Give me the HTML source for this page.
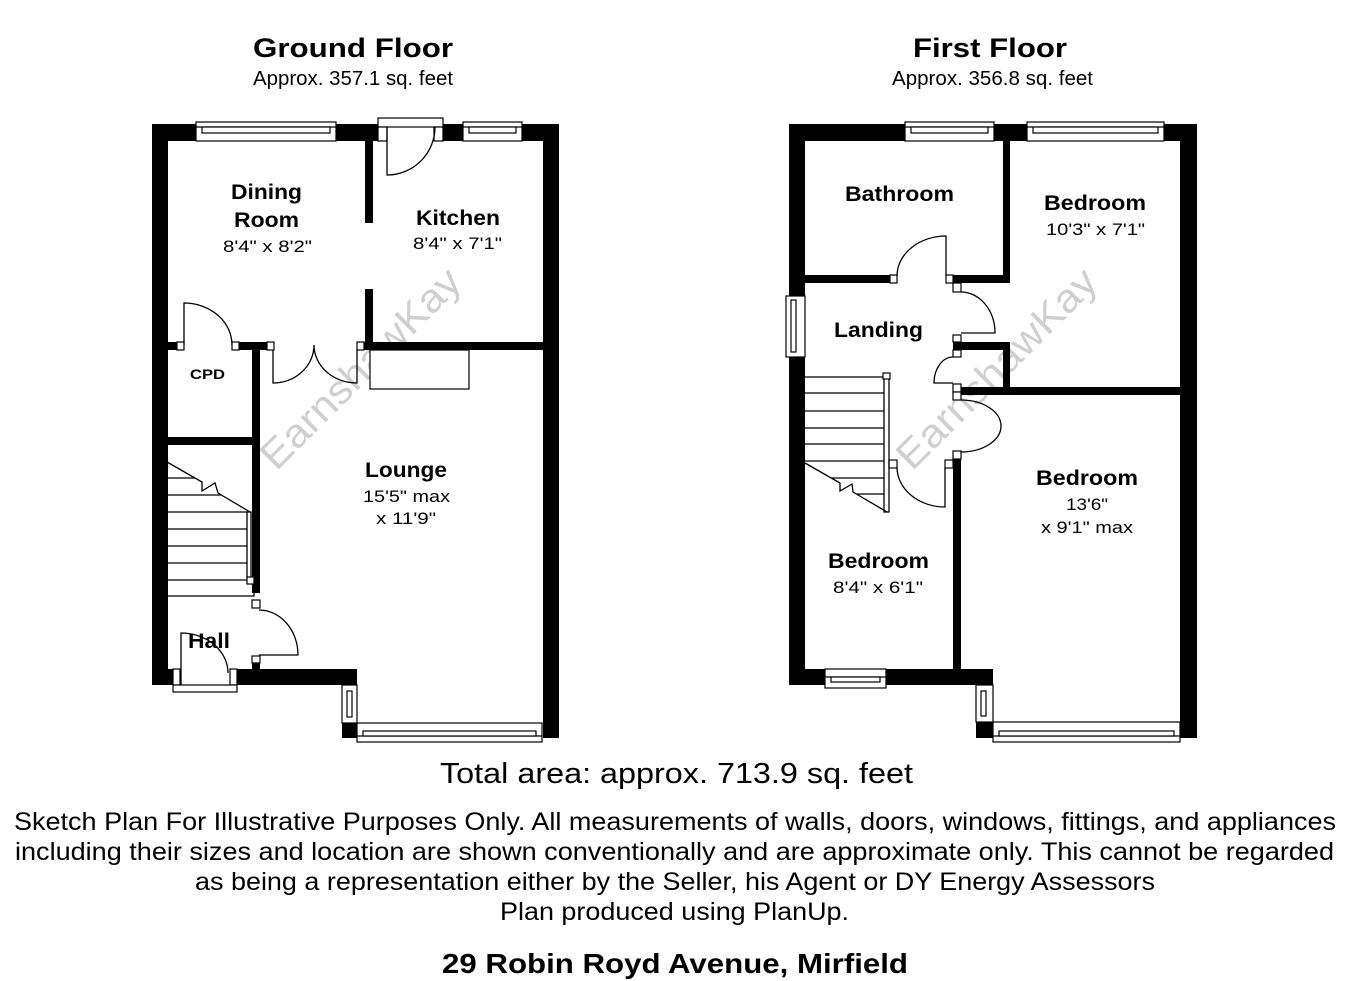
<!DOCTYPE html>
<html><head><meta charset="utf-8"><style>
html,body{margin:0;padding:0;background:#fff;}
svg{display:block;}
text{font-family:"Liberation Sans",Arial,sans-serif;fill:#000;}
.b{font-weight:bold;}
.ln{fill:none;stroke:#000;stroke-width:1.3;}
.w{fill:#fff;stroke:#000;stroke-width:1.2;}
.wm{fill:#cfcfcf;font-size:40px;}
</style></head><body>
<svg width="1350" height="981" viewBox="0 0 1350 981" xmlns="http://www.w3.org/2000/svg">
<rect width="1350" height="981" fill="#fff"/>

<!-- watermarks -->
<text class="wm" x="370" y="378" text-anchor="middle" textLength="265" lengthAdjust="spacingAndGlyphs" transform="rotate(-45 370 378)">EarnshawKay</text>
<text class="wm" x="1006" y="378" text-anchor="middle" textLength="265" lengthAdjust="spacingAndGlyphs" transform="rotate(-45 1006 378)">EarnshawKay</text>

<!-- ================= GROUND FLOOR ================= -->
<g fill="#000">
  <rect x="152" y="124" width="16" height="561"/>
  <rect x="152" y="124" width="44" height="17"/>
  <rect x="336" y="124" width="42" height="17"/>
  <rect x="443" y="124" width="20" height="17"/>
  <rect x="522" y="124" width="37" height="17"/>
  <rect x="543" y="124" width="16" height="614"/>
  <rect x="365" y="141" width="8" height="82"/>
  <rect x="365" y="289" width="8" height="61"/>
  <rect x="364" y="342" width="179" height="8"/>
  <rect x="168" y="342" width="9" height="8"/>
  <rect x="239" y="342" width="28" height="8"/>
  <rect x="252" y="342" width="8" height="251"/>
  <rect x="168" y="437" width="84" height="8"/>
  <rect x="252" y="663" width="8" height="7"/>
  <rect x="152" y="669" width="21" height="16"/>
  <rect x="237" y="669" width="120" height="16"/>
  <rect x="342" y="723" width="15" height="15"/>
</g>
<!-- posts -->
<rect class="w" x="177" y="342" width="7" height="8"/>
<rect class="w" x="232" y="342" width="7" height="8"/>
<rect class="w" x="267" y="342" width="7" height="8"/>
<rect class="w" x="357" y="342" width="7" height="8"/>
<rect class="w" x="252" y="600" width="8" height="8"/>
<rect class="w" x="252" y="656" width="8" height="7"/>
<rect class="w" x="173" y="669" width="7" height="16"/>
<rect class="w" x="230" y="669" width="7" height="16"/>
<rect class="w" x="173" y="685" width="64" height="7"/>
<!-- kitchen door frame -->
<rect class="w" x="378" y="118" width="65" height="9"/>
<rect class="w" x="378" y="127" width="9" height="14"/>
<rect class="w" x="434" y="127" width="9" height="14"/>

<!-- windows ground -->
<g>
  <rect class="w" x="196" y="122" width="140" height="19"/>
  <line class="ln" x1="196" y1="127" x2="336" y2="127"/>
  <rect class="w" x="202" y="127" width="128" height="6"/>
  <rect class="w" x="463" y="122" width="59" height="19"/>
  <line class="ln" x1="463" y1="127" x2="522" y2="127"/>
  <rect class="w" x="469" y="127" width="47" height="6"/>
  <rect class="w" x="357" y="723" width="185" height="19"/>
  <line class="ln" x1="357" y1="736" x2="542" y2="736"/>
  <rect class="w" x="363" y="731" width="173" height="5"/>
  <rect class="w" x="342" y="685" width="15" height="38"/>
  <rect class="w" x="347" y="691" width="5" height="26"/>
</g>

<!-- fireplace -->
<rect class="w" x="370" y="350" width="99" height="39"/>

<!-- doors ground -->
<path class="ln" d="M387,127 L387,175 A48,48 0 0 0 435,127"/>
<path class="ln" d="M184,345 L184,303 A48,42 0 0 1 232,345"/>
<path class="ln" d="M273,350 L273,383 A41,38 0 0 0 314,345 A43,38 0 0 0 357,383 L357,350"/>
<path class="ln" d="M259,610 A39,45 0 0 1 298,655 L259,655"/>
<path class="ln" d="M181,685 L181,633 A47,40 0 0 1 228,673"/>

<!-- stairs ground -->
<g class="ln">
  <polyline points="167,462 202,482 202,491 215,483 218,493 250,512"/>
  <line x1="167" y1="478" x2="195" y2="478"/>
  <line x1="167" y1="495" x2="221" y2="495"/>
  <line x1="167" y1="512" x2="247" y2="512"/>
  <line x1="167" y1="529" x2="247" y2="529"/>
  <line x1="167" y1="546" x2="247" y2="546"/>
  <line x1="167" y1="563" x2="247" y2="563"/>
  <line x1="167" y1="580" x2="247" y2="580"/>
  <polyline points="167,596 254,596 254,580"/>
  <rect x="247" y="512" width="4" height="66"/>
</g>
<rect class="w" x="247" y="577" width="7" height="7"/>

<!-- ================= FIRST FLOOR ================= -->
<g fill="#000">
  <rect x="789" y="124" width="16" height="561"/>
  <rect x="789" y="124" width="116" height="17"/>
  <rect x="994" y="124" width="33" height="17"/>
  <rect x="1164" y="124" width="33" height="17"/>
  <rect x="1180" y="124" width="17" height="614"/>
  <rect x="1003" y="141" width="7" height="142"/>
  <rect x="805" y="275" width="85" height="8"/>
  <rect x="953" y="275" width="57" height="8"/>
  <rect x="953" y="342" width="57" height="8"/>
  <rect x="1003" y="342" width="7" height="53"/>
  <rect x="961" y="387" width="219" height="8"/>
  <rect x="953" y="459" width="8" height="210"/>
  <rect x="789" y="669" width="204" height="16"/>
  <rect x="976" y="722" width="17" height="16"/>
</g>
<rect class="w" x="890" y="275" width="7" height="8"/>
<rect class="w" x="946" y="275" width="7" height="8"/>
<rect class="w" x="953" y="283" width="8" height="9"/>
<rect class="w" x="953" y="335" width="8" height="7"/>
<rect class="w" x="953" y="350" width="8" height="7"/>
<rect class="w" x="953" y="384" width="8" height="8"/>
<rect class="w" x="953" y="392" width="8" height="8"/>
<rect class="w" x="953" y="451" width="8" height="8"/>
<rect class="w" x="945" y="460" width="8" height="8"/>
<rect class="w" x="889" y="460" width="8" height="8"/>

<!-- windows first -->
<g>
  <rect class="w" x="905" y="122" width="89" height="19"/>
  <line class="ln" x1="905" y1="127" x2="994" y2="127"/>
  <rect class="w" x="911" y="127" width="77" height="6"/>
  <rect class="w" x="1027" y="122" width="137" height="19"/>
  <line class="ln" x1="1027" y1="127" x2="1164" y2="127"/>
  <rect class="w" x="1033" y="127" width="125" height="6"/>
  <rect class="w" x="786" y="296" width="19" height="61"/>
  <rect class="w" x="791" y="300" width="5" height="52"/>
  <rect class="w" x="825" y="669" width="61" height="19"/>
  <line class="ln" x1="825" y1="677" x2="886" y2="677"/>
  <rect class="w" x="831" y="677" width="49" height="5"/>
  <rect class="w" x="993" y="722" width="187" height="20"/>
  <line class="ln" x1="993" y1="736" x2="1180" y2="736"/>
  <rect class="w" x="999" y="731" width="175" height="5"/>
  <rect class="w" x="976" y="685" width="17" height="37"/>
  <rect class="w" x="981" y="691" width="5" height="25"/>
</g>

<!-- doors first -->
<path class="ln" d="M946,276 L946,236 A49,40 0 0 0 897,276"/>
<path class="ln" d="M961,292 A34,41 0 0 1 995,333 L961,333"/>
<path class="ln" d="M953,357 A19,26 0 0 0 934,383 L953,383"/>
<path class="ln" d="M961,400 A40,26 0 0 1 961,452"/>
<path class="ln" d="M897,467 A48,40 0 0 0 945,507 L945,468"/>

<!-- stairs first -->
<g class="ln">
  <line x1="805" y1="377" x2="884" y2="377"/>
  <line x1="805" y1="393" x2="884" y2="393"/>
  <line x1="805" y1="411" x2="884" y2="411"/>
  <line x1="805" y1="428" x2="884" y2="428"/>
  <line x1="805" y1="444" x2="884" y2="444"/>
  <line x1="805" y1="461" x2="884" y2="461"/>
  <line x1="831" y1="478" x2="884" y2="478"/>
  <line x1="857" y1="494" x2="884" y2="494"/>
  <polyline points="805,463 840,483 840,491 852,484 853,492 887,512"/>
  <rect x="884" y="377" width="5" height="135"/>
</g>
<rect class="w" x="883" y="373" width="7" height="6"/>

<!-- ================= TEXT ================= -->
<text class="b" x="253" y="57" font-size="27" textLength="200" lengthAdjust="spacingAndGlyphs">Ground Floor</text>
<text x="253" y="85" font-size="20" textLength="200" lengthAdjust="spacingAndGlyphs">Approx. 357.1 sq. feet</text>
<text class="b" x="913" y="57" font-size="27" textLength="154" lengthAdjust="spacingAndGlyphs">First Floor</text>
<text x="892" y="85" font-size="20" textLength="201" lengthAdjust="spacingAndGlyphs">Approx. 356.8 sq. feet</text>

<text class="b" x="231" y="199" font-size="21" textLength="71" lengthAdjust="spacingAndGlyphs">Dining</text>
<text class="b" x="234" y="227" font-size="21" textLength="65" lengthAdjust="spacingAndGlyphs">Room</text>
<text x="223" y="252" font-size="17" textLength="89" lengthAdjust="spacingAndGlyphs">8'4" x 8'2"</text>
<text class="b" x="416" y="225" font-size="21" textLength="84" lengthAdjust="spacingAndGlyphs">Kitchen</text>
<text x="413" y="249" font-size="17" textLength="89" lengthAdjust="spacingAndGlyphs">8'4" x 7'1"</text>
<text class="b" x="190" y="379" font-size="14" textLength="35" lengthAdjust="spacingAndGlyphs">CPD</text>
<text class="b" x="365" y="477" font-size="21" textLength="82" lengthAdjust="spacingAndGlyphs">Lounge</text>
<text x="363" y="502" font-size="17" textLength="87" lengthAdjust="spacingAndGlyphs">15'5" max</text>
<text x="376" y="524" font-size="17" textLength="60" lengthAdjust="spacingAndGlyphs">x 11'9"</text>
<text class="b" x="188" y="648" font-size="21" textLength="42" lengthAdjust="spacingAndGlyphs">Hall</text>

<text class="b" x="845" y="201" font-size="21" textLength="109" lengthAdjust="spacingAndGlyphs">Bathroom</text>
<text class="b" x="1044" y="210" font-size="21" textLength="102" lengthAdjust="spacingAndGlyphs">Bedroom</text>
<text x="1046" y="235" font-size="17" textLength="99" lengthAdjust="spacingAndGlyphs">10'3" x 7'1"</text>
<text class="b" x="834" y="337" font-size="21" textLength="89" lengthAdjust="spacingAndGlyphs">Landing</text>
<text class="b" x="1036" y="485" font-size="21" textLength="102" lengthAdjust="spacingAndGlyphs">Bedroom</text>
<text x="1066" y="510" font-size="17" textLength="42" lengthAdjust="spacingAndGlyphs">13'6"</text>
<text x="1041" y="533" font-size="17" textLength="92" lengthAdjust="spacingAndGlyphs">x 9'1" max</text>
<text class="b" x="828" y="568" font-size="21" textLength="101" lengthAdjust="spacingAndGlyphs">Bedroom</text>
<text x="833" y="593" font-size="17" textLength="90" lengthAdjust="spacingAndGlyphs">8'4" x 6'1"</text>

<text x="440" y="783" font-size="29" textLength="473" lengthAdjust="spacingAndGlyphs">Total area: approx. 713.9 sq. feet</text>
<text x="14" y="830" font-size="25" textLength="1322" lengthAdjust="spacingAndGlyphs">Sketch Plan For Illustrative Purposes Only. All measurements of walls, doors, windows, fittings, and appliances</text>
<text x="15" y="860" font-size="25" textLength="1319" lengthAdjust="spacingAndGlyphs">including their sizes and location are shown conventionally and are approximate only. This cannot be regarded</text>
<text x="195" y="890" font-size="25" textLength="960" lengthAdjust="spacingAndGlyphs">as being a representation either by the Seller, his Agent or DY Energy Assessors</text>
<text x="500" y="920" font-size="25" textLength="349" lengthAdjust="spacingAndGlyphs">Plan produced using PlanUp.</text>
<text class="b" x="442" y="973" font-size="27.5" textLength="466" lengthAdjust="spacingAndGlyphs">29 Robin Royd Avenue, Mirfield</text>
</svg>
</body></html>
